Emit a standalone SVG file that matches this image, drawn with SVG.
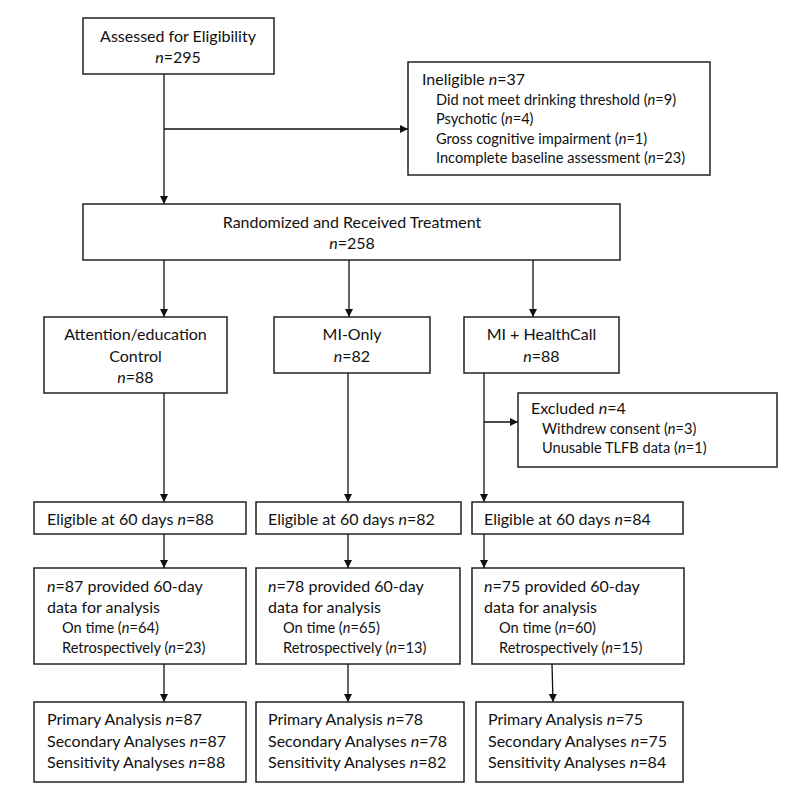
<svg xmlns="http://www.w3.org/2000/svg" width="798" height="798" viewBox="0 0 798 798">
<style>
.box{fill:#fff;stroke:#222;stroke-width:1.5}
.t{font-family:Lato,"Open Sans","Liberation Sans",sans-serif;font-size:16px;fill:#111}
.s{font-family:Lato,"Open Sans","Liberation Sans",sans-serif;font-size:14.6px;fill:#111}
.c{text-anchor:middle}
.i{font-style:italic}
.ln{fill:none;stroke:#111;stroke-width:1.3;marker-end:url(#ah)}
.pl{fill:none;stroke:#111;stroke-width:1.3}
</style>
<defs>
<marker id="ah" viewBox="0 0 10 10" refX="10" refY="5" markerWidth="8" markerHeight="8" markerUnits="userSpaceOnUse" orient="auto">
<path d="M0,0 L10,5 L0,10 z" fill="#111"/>
</marker>
</defs>
<rect width="798" height="798" fill="#fff"/>
<g id="connectors">
<line class="pl" x1="164" y1="74" x2="164" y2="129"/>
<line class="ln" x1="164" y1="129" x2="408" y2="129"/>
<line class="ln" x1="164" y1="129" x2="164" y2="204"/>
<line class="ln" x1="164" y1="260" x2="164" y2="317"/>
<line class="ln" x1="349" y1="260" x2="349" y2="317"/>
<line class="ln" x1="533" y1="260" x2="533" y2="317"/>
<line class="ln" x1="164" y1="393" x2="164" y2="502"/>
<line class="ln" x1="348" y1="373" x2="348" y2="502"/>
<line class="pl" x1="484" y1="373" x2="484" y2="422"/>
<line class="ln" x1="484" y1="422" x2="518" y2="422"/>
<line class="ln" x1="484" y1="422" x2="484" y2="502"/>
<line class="ln" x1="164" y1="534" x2="164" y2="568"/>
<line class="ln" x1="348" y1="534" x2="348" y2="568"/>
<line class="ln" x1="484" y1="534" x2="484" y2="568"/>
<line class="ln" x1="164" y1="664" x2="164" y2="702"/>
<line class="ln" x1="348" y1="664" x2="348" y2="702"/>
<line class="ln" x1="552" y1="664" x2="553" y2="702"/>
</g>
<g id="assessed">
<rect class="box" x="83" y="18" width="191" height="56"/>
<text class="t c" x="178" y="42">Assessed for Eligibility</text>
<text class="t c" x="178" y="63"><tspan class="i">n</tspan>=295</text>
</g>
<g id="ineligible">
<rect class="box" x="408" y="62" width="302" height="113"/>
<text class="t" x="422" y="85">Ineligible <tspan class="i">n</tspan>=37</text>
<text class="s" x="436" y="105">Did not meet drinking threshold (<tspan class="i">n</tspan>=9)</text>
<text class="s" x="436" y="124">Psychotic (<tspan class="i">n</tspan>=4)</text>
<text class="s" x="436" y="144">Gross cognitive impairment (<tspan class="i">n</tspan>=1)</text>
<text class="s" x="436" y="163">Incomplete baseline assessment (<tspan class="i">n</tspan>=23)</text>
</g>
<g id="randomized">
<rect class="box" x="83" y="204" width="537" height="56"/>
<text class="t c" x="352" y="228">Randomized and Received Treatment</text>
<text class="t c" x="352" y="249"><tspan class="i">n</tspan>=258</text>
</g>
<g id="arm-control">
<rect class="box" x="44" y="317" width="183" height="76"/>
<text class="t c" x="135.5" y="340">Attention/education</text>
<text class="t c" x="135.5" y="362">Control</text>
<text class="t c" x="135.5" y="383"><tspan class="i">n</tspan>=88</text>
</g>
<g id="arm-mi">
<rect class="box" x="274" y="317" width="156" height="56"/>
<text class="t c" x="352" y="340">MI-Only</text>
<text class="t c" x="352" y="362"><tspan class="i">n</tspan>=82</text>
</g>
<g id="arm-hc">
<rect class="box" x="464" y="317" width="155" height="56"/>
<text class="t c" x="541.5" y="340">MI + HealthCall</text>
<text class="t c" x="541.5" y="362"><tspan class="i">n</tspan>=88</text>
</g>
<g id="excluded">
<rect class="box" x="518" y="393" width="259" height="74"/>
<text class="t" x="531" y="414">Excluded <tspan class="i">n</tspan>=4</text>
<text class="s" x="542" y="434">Withdrew consent (<tspan class="i">n</tspan>=3)</text>
<text class="s" x="542" y="453">Unusable TLFB data (<tspan class="i">n</tspan>=1)</text>
</g>
<g id="elig-1">
<rect class="box" x="34" y="502" width="212" height="32"/>
<text class="t" x="47" y="525">Eligible at 60 days <tspan class="i">n</tspan>=88</text>
</g>
<g id="elig-2">
<rect class="box" x="256" y="502" width="205" height="32"/>
<text class="t" x="268" y="525">Eligible at 60 days <tspan class="i">n</tspan>=82</text>
</g>
<g id="elig-3">
<rect class="box" x="472" y="502" width="211" height="32"/>
<text class="t" x="484" y="525">Eligible at 60 days <tspan class="i">n</tspan>=84</text>
</g>
<g id="data-1">
<rect class="box" x="34" y="568" width="212" height="96"/>
<text class="t" x="47" y="592"><tspan class="i">n</tspan>=87 provided 60-day</text>
<text class="t" x="47" y="613">data for analysis</text>
<text class="s" x="62" y="633">On time (<tspan class="i">n</tspan>=64)</text>
<text class="s" x="62" y="653">Retrospectively (<tspan class="i">n</tspan>=23)</text>
</g>
<g id="data-2">
<rect class="box" x="256" y="568" width="204" height="96"/>
<text class="t" x="268" y="592"><tspan class="i">n</tspan>=78 provided 60-day</text>
<text class="t" x="268" y="613">data for analysis</text>
<text class="s" x="283" y="633">On time (<tspan class="i">n</tspan>=65)</text>
<text class="s" x="283" y="653">Retrospectively (<tspan class="i">n</tspan>=13)</text>
</g>
<g id="data-3">
<rect class="box" x="472" y="568" width="212" height="96"/>
<text class="t" x="484" y="592"><tspan class="i">n</tspan>=75 provided 60-day</text>
<text class="t" x="484" y="613">data for analysis</text>
<text class="s" x="499" y="633">On time (<tspan class="i">n</tspan>=60)</text>
<text class="s" x="499" y="653">Retrospectively (<tspan class="i">n</tspan>=15)</text>
</g>
<g id="analysis-1">
<rect class="box" x="34" y="702" width="212" height="80"/>
<text class="t" x="47" y="725">Primary Analysis <tspan class="i">n</tspan>=87</text>
<text class="t" x="47" y="747">Secondary Analyses <tspan class="i">n</tspan>=87</text>
<text class="t" x="47" y="768">Sensitivity Analyses <tspan class="i">n</tspan>=88</text>
</g>
<g id="analysis-2">
<rect class="box" x="256" y="702" width="208" height="80"/>
<text class="t" x="268" y="725">Primary Analysis <tspan class="i">n</tspan>=78</text>
<text class="t" x="268" y="747">Secondary Analyses <tspan class="i">n</tspan>=78</text>
<text class="t" x="268" y="768">Sensitivity Analyses <tspan class="i">n</tspan>=82</text>
</g>
<g id="analysis-3">
<rect class="box" x="476" y="702" width="207" height="80"/>
<text class="t" x="488" y="725">Primary Analysis <tspan class="i">n</tspan>=75</text>
<text class="t" x="488" y="747">Secondary Analyses <tspan class="i">n</tspan>=75</text>
<text class="t" x="488" y="768">Sensitivity Analyses <tspan class="i">n</tspan>=84</text>
</g>
</svg>
